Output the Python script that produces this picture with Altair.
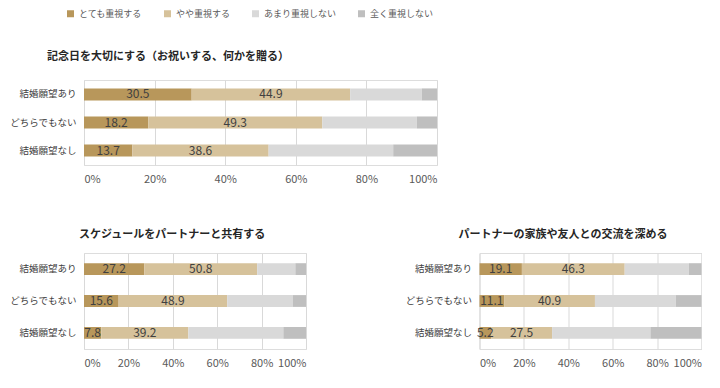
import altair as alt
import pandas as pd

FONT = "Noto Sans CJK JP"

groups = ["結婚願望あり", "どちらでもない", "結婚願望なし"]
categories = ["とても重視する", "やや重視する", "あまり重視しない", "全く重視しない"]
colors = ["#B8975B", "#D6C29B", "#D9D9D9", "#BFBFBF"]
ticks = [0, 20, 40, 60, 80, 100]

titles = [
    "記念日を大切にする（お祝いする、何かを贈る）",
    "スケジュールをパートナーと共有する",
    "パートナーの家族や友人との交流を深める",
]

p1_very = [30.5, 18.2, 13.7]
p1_some = [44.9, 49.3, 38.6]
p1_little = [20.3, 26.8, 35.3]
p1_none = [4.3, 5.7, 12.4]

p2_very = [27.2, 15.6, 7.8]
p2_some = [50.8, 48.9, 39.2]
p2_little = [17.2, 29.5, 42.8]
p2_none = [4.8, 6.0, 10.2]

p3_very = [19.1, 11.1, 5.2]
p3_some = [46.3, 40.9, 27.5]
p3_little = [28.9, 36.5, 44.3]
p3_none = [5.7, 11.5, 23.0]


def panel(series_list, title, width, height, title_dx, title_offset,
          pad_inner, pad_outer, legend=None):
    rows = []
    for ci, (cat, series) in enumerate(zip(categories, series_list)):
        for gi, g in enumerate(groups):
            v = series[gi]
            rows.append({"group": g, "gorder": gi, "cat": cat, "corder": ci,
                         "value": v, "label": f"{v:.1f}"})
    df = pd.DataFrame(rows)
    base = alt.Chart(df).transform_stack(
        stack="value", as_=["x0", "x1"], groupby=["group"],
        sort=[alt.SortField("corder", order="ascending")],
    ).transform_calculate(mid="(datum.x0 + datum.x1) / 2")

    yscale = alt.Scale(paddingInner=pad_inner, paddingOuter=pad_outer)
    y = alt.Y("group:N", sort=groups, title=None, scale=yscale,
              axis=alt.Axis(domain=False, ticks=False, labelPadding=8,
                            labelFontSize=9.5, labelFont=FONT,
                            labelColor="#404040"))
    x = alt.X("x0:Q", title=None,
              scale=alt.Scale(domain=[0, 100], nice=False, zero=True),
              axis=alt.Axis(values=ticks, labelExpr="datum.value + '%'",
                            domain=False, ticks=False, grid=True,
                            gridColor="#D9D9D9", gridWidth=1,
                            labelFontSize=11, labelFont=FONT,
                            labelColor="#595959", labelPadding=8))
    color = alt.Color("cat:N", scale=alt.Scale(domain=categories, range=colors),
                      legend=legend)
    bars = base.mark_bar().encode(x=x, x2="x1:Q", y=y, color=color)
    text = base.transform_filter("datum.corder < 2").mark_text(
        fontSize=12, font=FONT, color="#404040"
    ).encode(x="mid:Q", y=alt.Y("group:N", sort=groups), text="label:N")
    return alt.layer(bars, text).properties(
        width=width, height=height,
        title=alt.TitleParams(title, anchor="start", frame="group", dx=title_dx,
                              offset=title_offset, fontSize=11,
                              fontWeight="bold", font=FONT, color="#262626"),
    )


legend = alt.Legend(orient="none", legendX=-18, legendY=-71,
                    direction="horizontal", title=None, symbolType="square",
                    symbolSize=49, symbolStrokeWidth=0, labelFontSize=9,
                    labelFont=FONT, labelColor="#595959", columnPadding=20,
                    padding=0, labelOffset=4)

top = panel([p1_very, p1_some, p1_little, p1_none], titles[0], 353, 85,
            -37, 18, 0.57, 0.3, legend)
bl = panel([p2_very, p2_some, p2_little, p2_none], titles[1], 222, 96,
           -5, 13, 0.63, 0.32, None)
br = panel([p3_very, p3_some, p3_little, p3_none], titles[2], 222, 96,
           -21, 13, 0.63, 0.32, None)

chart = alt.vconcat(
    top, alt.hconcat(bl, br, spacing=96.5), spacing=43
).properties(
    padding={"left": 0, "top": 1, "right": 0, "bottom": 0}
).configure_view(stroke=None).configure(font=FONT)

chart.save("out.html", embed_options={"renderer": "svg", "actions": False})
